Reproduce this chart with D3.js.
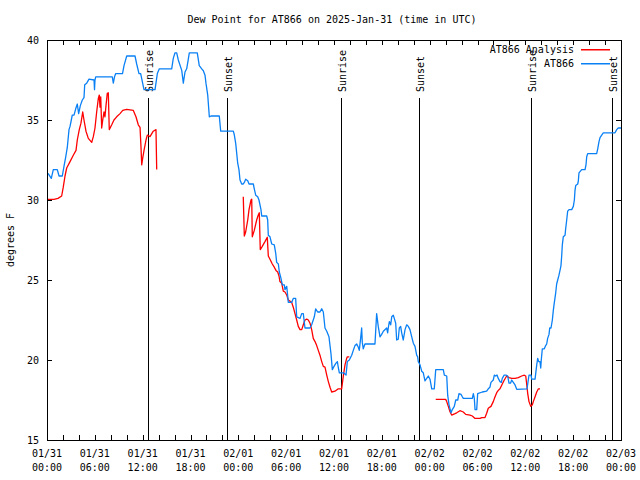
<!DOCTYPE html>
<html>
<head>
<meta charset="utf-8">
<script src="https://cdn.jsdelivr.net/npm/d3@7"></script>
<style>
  body { margin: 0; background: #fff; }
  svg { display: block; }
  text { font-family: "DejaVu Sans Mono", "Liberation Mono", monospace; font-size: 10px; fill: #000; }
</style>
</head>
<body>
<svg id="chart" width="640" height="480"></svg>
<script>
// ---------- DATA (hours after 2025-01-31 00:00 UTC, dew point °F) ----------
const title = "Dew Point for AT866 on 2025-Jan-31 (time in UTC)";
const yLabel = "degrees F";
const seriesNames = ["AT866 Analysis", "AT866"];
const seriesColors = ["#ff0000", "#0a80f5"];
const yTicks = [15, 20, 25, 30, 35, 40];

const obsHours = [0.13,0.54,0.79,1.29,1.51,1.92,2.13,2.35,2.55,2.76,2.89,3.05,3.17,3.39,3.60,3.80,3.97,4.18,4.43,4.64,4.73,4.98,5.27,5.90,5.96,6.02,6.11,8.19,8.32,8.47,8.62,9.47,9.66,10.0,11.04,11.25,11.54,11.75,12.08,12.17,13.55,13.84,14.09,15.64,15.84,16.06,16.27,16.47,16.90,17.10,17.31,17.52,17.69,17.85,18.85,19.10,19.41,19.61,19.82,19.94,20.16,20.36,20.57,21.61,21.79,23.37,23.50,23.67,23.80,23.92,24.08,24.21,24.42,24.62,24.75,24.92,25.18,25.34,25.88,26.0,26.18,26.43,26.59,26.84,26.93,27.56,27.68,27.76,27.97,28.19,28.51,28.69,28.81,29.02,29.14,29.35,29.52,29.77,29.85,30.07,30.27,30.69,30.89,31.19,31.32,31.74,31.95,32.15,32.36,32.99,33.20,33.53,33.70,33.95,34.24,34.46,34.66,34.87,35.09,35.37,35.62,35.79,36.0,36.25,36.42,36.55,36.67,37.17,37.51,37.67,37.92,38.22,38.42,38.63,38.85,39.05,39.17,39.35,39.47,39.55,39.67,39.88,41.14,41.35,41.55,41.77,41.98,42.19,42.61,42.73,42.81,42.94,43.11,43.24,43.44,43.56,43.74,43.86,44.06,44.19,44.36,44.49,44.69,44.91,45.12,45.32,45.53,45.75,45.95,46.16,46.37,46.50,46.57,46.79,47.0,47.20,47.41,47.63,47.83,48.04,48.26,48.58,48.76,49.71,49.84,50.14,50.26,50.43,50.68,50.84,51.09,51.27,51.52,51.68,51.93,52.10,52.22,53.35,53.48,53.60,53.69,53.90,54.02,54.60,55.15,55.35,55.56,55.69,55.98,56.11,56.28,56.45,56.61,56.82,56.99,57.11,57.35,57.57,57.79,57.95,58.14,58.29,58.49,58.71,58.92,60.21,60.30,60.46,60.71,60.80,61.22,61.43,61.55,61.68,61.84,61.93,62.0,62.13,62.38,62.55,62.68,62.80,62.97,63.06,63.22,63.39,63.51,63.64,63.81,63.93,64.06,64.22,64.35,64.47,64.56,64.64,64.76,64.98,65.06,65.19,65.31,65.48,65.82,66.02,66.15,66.23,66.32,66.57,66.65,66.73,67.07,67.49,67.61,67.70,67.82,68.95,69.08,69.24,69.37,69.58,69.78,71.25,71.46,71.66,72.0];
const obsValues = [31.67,31.35,31.9,31.9,31.5,31.5,32.1,32.7,33.3,34.4,34.6,35.0,35.3,35.3,35.7,36.0,35.4,35.9,36.25,36.4,37.2,37.3,37.55,37.5,36.9,37.5,37.7,37.7,37.3,37.7,37.9,37.9,38.4,39.0,39.0,38.5,37.9,37.9,37.1,36.9,36.9,37.9,38.2,38.2,38.85,39.2,39.2,38.75,38.1,37.3,38.0,38.2,38.7,39.2,39.2,38.4,38.2,38.08,37.8,37.3,36.56,35.2,35.25,35.25,34.3,34.3,34.06,33.54,32.9,32.3,31.9,31.25,31.0,31.0,31.1,31.3,31.2,31.0,31.0,30.7,30.3,30.2,30.0,29.4,29.0,29.0,28.75,27.8,27.7,27.25,27.2,26.67,26.1,26.0,25.5,25.1,24.7,24.7,24.4,24.6,23.6,23.6,23.85,23.85,22.7,22.6,22.9,22.9,22.0,22.0,22.2,22.7,23.2,23.0,23.0,23.2,23.0,22.0,21.8,21.45,20.4,19.4,19.6,19.8,19.9,19.5,19.2,19.2,19.06,19.9,20.0,20.3,20.6,20.9,21.0,20.8,20.6,21.4,22.0,21.1,20.7,21.0,21.0,22.9,22.1,21.45,21.6,21.8,22.0,21.7,22.0,22.4,22.2,22.7,22.8,22.6,22.3,21.25,21.3,22.0,22.1,21.7,21.25,21.9,22.2,22.1,21.9,21.45,21.05,20.85,20.3,20.2,19.9,19.7,19.3,19.2,18.7,18.85,19.0,18.8,18.2,18.2,19.4,19.4,19.05,19.0,17.8,17.2,16.7,16.9,17.1,17.5,17.5,17.9,17.85,17.7,17.6,17.6,17.9,17.6,16.9,16.9,17.9,18.0,18.05,18.2,18.3,18.6,18.75,19.06,19.0,19.06,18.85,18.65,18.6,18.85,19.06,19.06,19.0,18.55,18.55,18.75,18.6,18.44,18.17,18.2,18.5,19.06,19.06,18.8,18.8,19.7,20.1,19.9,19.9,19.5,20.0,20.7,20.7,20.9,21.0,21.35,21.6,22.0,22.0,22.5,23.1,23.6,24.2,24.75,25.0,25.3,25.6,25.9,26.5,27.2,27.7,27.8,28.2,28.75,29.3,29.4,29.4,29.6,30.0,30.6,30.9,31.0,31.2,31.7,31.9,31.9,32.2,32.7,32.9,32.9,33.2,33.65,33.9,34.06,34.2,34.2,34.4,34.5,34.5];

// Analysis series: null marks a gap between runs
const anaHours = [0,0.88,1.38,1.84,2.04,2.26,2.47,2.89,3.30,3.64,3.80,4.05,4.26,4.48,4.64,4.89,5.18,5.61,5.81,6.02,6.23,6.44,6.56,6.65,6.74,6.86,6.99,7.15,7.27,7.40,7.56,7.69,7.81,8.12,8.40,8.74,9.16,9.50,10.0,10.83,11.16,11.45,11.67,11.79,11.88,12.0,12.17,12.42,12.58,12.92,13.33,13.67,13.76,
  null,
  24.62,24.75,24.92,25.18,25.34,25.59,25.68,25.75,26.0,26.30,26.50,26.63,26.75,27.0,27.34,27.63,27.76,27.97,28.26,28.51,28.72,28.94,29.10,29.22,29.44,29.64,29.85,30.07,30.27,30.69,30.89,31.11,31.32,31.52,31.74,31.95,32.15,32.36,32.58,32.78,32.99,33.20,33.40,33.62,33.83,34.03,34.24,34.46,34.66,34.87,35.09,35.29,35.50,35.71,36.12,36.54,36.96,37.17,37.38,37.59,37.67,37.92,
  null,
  48.76,50.01,50.14,50.34,50.55,50.76,51.18,51.39,51.80,52.22,52.52,53.06,53.35,53.69,54.32,54.53,54.94,55.15,55.35,55.69,55.98,56.20,56.41,56.61,56.82,57.11,57.36,57.66,57.95,58.29,58.71,59.12,59.54,59.87,60.05,60.17,60.30,60.46,60.68,60.88,61.0,61.22,61.43,61.64,61.84];
const anaValues = [30.04,30.04,30.1,30.25,30.8,31.5,32.0,32.4,32.8,33.1,33.75,34.4,34.8,35.5,35.0,34.3,33.85,33.6,33.96,34.5,35.5,36.35,36.56,35.8,36.45,34.5,35.0,35.5,35.2,35.9,36.67,36.7,34.4,34.7,35.0,35.2,35.4,35.6,35.67,35.6,35.2,34.7,34.54,33.3,32.2,32.6,33.1,33.75,34.06,33.96,34.3,34.4,31.9,
  null,
  30.2,27.75,28.0,28.75,29.4,30.0,30.05,27.7,28.1,28.75,29.06,29.2,26.9,27.1,27.4,27.67,26.5,26.3,26.0,25.8,25.6,25.5,25.25,24.9,24.8,24.3,24.25,24.06,23.75,23.6,23.3,22.9,22.5,22.1,21.9,21.9,22.2,22.5,22.55,22.5,22.3,21.9,21.35,21.15,20.9,20.6,20.3,19.9,19.6,19.55,19.06,18.65,18.3,18.0,18.05,18.2,18.2,19.0,19.7,20.1,20.2,20.2,
  null,
  17.54,17.54,17.4,17.1,16.77,16.56,16.65,16.7,16.83,16.75,16.6,16.56,16.5,16.35,16.35,16.4,16.4,16.67,16.98,17.1,17.4,17.7,17.96,18.1,18.2,18.5,18.75,19.0,18.9,18.85,18.85,18.9,19.0,19.05,19.0,18.5,17.9,17.4,17.1,17.2,17.4,17.7,18.0,18.2,18.2];

const sunLabels = ["Sunrise", "Sunset", "Sunrise", "Sunset", "Sunrise", "Sunset"];
const sunHours = [12.71, 22.62, 36.84, 46.70, 60.75, 70.83];

// ---------- CHART ----------
const svg = d3.select("#chart");
const M = { left: 47, right: 621, top: 40, bottom: 440 };
const t0 = Date.UTC(2025, 0, 31);
const toDate = h => new Date(t0 + h * 3600e3);
const x = d3.scaleUtc().domain([toDate(0), toDate(72)]).range([M.left, M.right]);
const y = d3.scaleLinear().domain([15, 40]).range([M.bottom, M.top]);

const minorTicks = d3.utcHour.every(2).range(toDate(0), toDate(72.01));
const majorTicks = d3.utcHour.every(6).range(toDate(0), toDate(72.01));

// title
svg.append("text").attr("x", 332).attr("y", 23).attr("text-anchor", "middle").text(title);

// y label
svg.append("text").attr("transform", "translate(14,240) rotate(-90)")
  .attr("text-anchor", "middle").text(yLabel);

// axes (ticks pointing inward, mirrored)
function styleAxis(g) {
  g.select(".domain").remove();
  g.selectAll(".tick line").attr("stroke", "#000").attr("shape-rendering", "crispEdges");
  g.selectAll(".tick text").attr("font-family", null).attr("font-size", null);
}
svg.append("g").attr("transform", `translate(0,${M.bottom})`)
  .call(d3.axisBottom(x).tickValues(minorTicks).tickSizeInner(-5).tickSizeOuter(0).tickFormat(""))
  .call(styleAxis);
svg.append("g").attr("transform", `translate(0,${M.top})`)
  .call(d3.axisTop(x).tickValues(minorTicks).tickSizeInner(-5).tickSizeOuter(0).tickFormat(""))
  .call(styleAxis);
svg.append("g").attr("transform", `translate(${M.left},0)`)
  .call(d3.axisLeft(y).tickValues(yTicks).tickSizeInner(-5).tickSizeOuter(0).tickPadding(8))
  .call(styleAxis);
svg.append("g").attr("transform", `translate(${M.right},0)`)
  .call(d3.axisRight(y).tickValues(yTicks).tickSizeInner(-5).tickSizeOuter(0).tickFormat(""))
  .call(styleAxis);

// x tick labels (two lines)
const fmtD = d3.utcFormat("%m/%d"), fmtT = d3.utcFormat("%H:%M");
const xl = svg.append("g").selectAll("text").data(majorTicks).join("text")
  .attr("text-anchor", "middle");
xl.append("tspan").attr("x", d => x(d)).attr("y", 457).text(fmtD);
xl.append("tspan").attr("x", d => x(d)).attr("y", 471).text(fmtT);

// sunrise / sunset markers
const sg = svg.append("g");
sg.selectAll("line").data(sunHours).join("line")
  .attr("x1", d => Math.round(x(toDate(d))) + 0.5).attr("x2", d => Math.round(x(toDate(d))) + 0.5)
  .attr("y1", 98).attr("y2", M.bottom).attr("stroke", "#000").attr("stroke-width", 1)
  .attr("shape-rendering", "crispEdges");
sg.selectAll("text").data(sunHours).join("text")
  .attr("transform", d => `translate(${Math.round(x(toDate(d))) + 5},92) rotate(-90)`)
  .text((d, i) => sunLabels[i]);

// series
const lineGen = d3.line().defined(d => d[0] != null && d[1] != null)
  .x(d => x(toDate(d[0]))).y(d => y(d[1]));
const anaData = anaHours.map((h, i) => [h, anaValues[i]]);
const obsData = obsHours.map((h, i) => [h, obsValues[i]]);
const plot = svg.append("g");
plot.append("path").datum(anaData).attr("d", lineGen)
  .attr("fill", "none").attr("stroke", seriesColors[0]).attr("stroke-width", 1.3)
  .attr("stroke-linejoin", "round");
plot.append("path").datum(obsData).attr("d", lineGen)
  .attr("fill", "none").attr("stroke", seriesColors[1]).attr("stroke-width", 1.3)
  .attr("stroke-linejoin", "round");

// frame
svg.append("rect").attr("x", M.left + 0.5).attr("y", M.top + 0.5)
  .attr("width", M.right - M.left).attr("height", M.bottom - M.top)
  .attr("fill", "none").attr("stroke", "#000").attr("stroke-width", 1)
  .attr("shape-rendering", "crispEdges");

// legend
const lg = svg.append("g").attr("class", "legend");
const rows = lg.selectAll("g").data(seriesNames).join("g")
  .attr("transform", (d, i) => `translate(0,${49 + i * 14})`);
rows.append("text").attr("x", 574).attr("y", 4).attr("text-anchor", "end").text(d => d);
rows.append("rect").attr("x", 581).attr("y", 0).attr("width", 29).attr("height", 1.5)
  .style("fill", (d, i) => seriesColors[i]);
</script>
</body>
</html>
